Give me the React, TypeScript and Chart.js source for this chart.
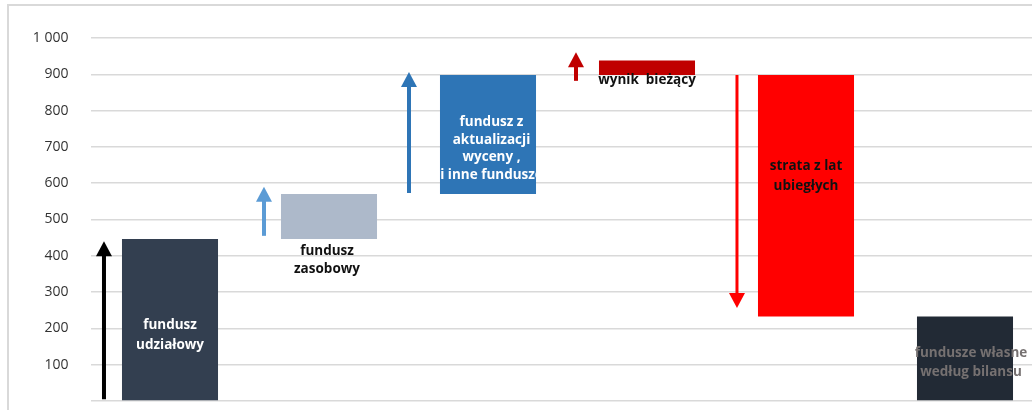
import React, { useEffect, useRef } from "react";
import { Chart, registerables } from "chart.js";

Chart.register(...registerables);

// ---- data ----
const categories = [
  "fundusz udziałowy",
  "fundusz zasobowy",
  "fundusz z aktualizacji wyceny, i inne fundusze",
  "wynik bieżący",
  "strata z lat ubiegłych",
  "fundusze własne według bilansu",
];
const barStart = [0, 446, 570, 898, 233, 0];
const barEnd = [446, 570, 898, 938, 898, 233];
const arrowFrom = [5, 455, 573, 882, 898];
const arrowTo = [440, 590, 906, 961, 256];
const labelLines = [
  ["fundusz", "udziałowy"],
  ["fundusz", "zasobowy"],
  ["fundusz z", "aktualizacji", "wyceny ,", "i inne fundusze"],
  ["wynik  bieżący"],
  ["strata z lat", "ubiegłych"],
  ["fundusze własne", "według bilansu"],
];
const yMin = 0;
const yMax = 1000;
const yStep = 100;

// ---- style ----
const barColors = ["#333F50", "#ADB9CA", "#2E75B6", "#C00000", "#FF0000", "#222A35"];
const labelColors = ["#FFFFFF", "#111111", "#FFFFFF", "#111111", "#111111", "#767171"];
const labelDx = [0, -2, 3.5, 0, 0, 6];
const labelDy = [15, 44, 14, 12, -20, 4];
const labelLineH = [20, 18, 17.7, 18, 20, 19];
const labelClip = [false, false, true, false, false, false];
const arrowColors = ["#000000", "#5B9BD5", "#2E75B6", "#C00000", "#FF0000"];
const arrowGap = [18, 17, 31, 23, 21];
const arrowShaft = [4, 4, 4, 4, 3];

const overlayPlugin = {
  id: "overlay",
  afterDatasetsDraw(chart: any) {
    const ctx = chart.ctx;
    const meta = chart.getDatasetMeta(0);
    const ys = chart.scales.y;
    // arrows
    arrowFrom.forEach((from, i) => {
      const bar = meta.data[i];
      if (!bar) return;
      const x = bar.x - bar.width / 2 - arrowGap[i];
      const y0 = ys.getPixelForValue(from);
      const y1 = ys.getPixelForValue(arrowTo[i]);
      const dir = y1 < y0 ? -1 : 1;
      const headL = 15;
      const headW = 8;
      ctx.save();
      ctx.strokeStyle = arrowColors[i];
      ctx.fillStyle = arrowColors[i];
      ctx.lineWidth = arrowShaft[i];
      ctx.beginPath();
      ctx.moveTo(x, y0);
      ctx.lineTo(x, y1 - dir * headL + dir * 1);
      ctx.stroke();
      ctx.beginPath();
      ctx.moveTo(x, y1);
      ctx.lineTo(x - headW, y1 - dir * headL);
      ctx.lineTo(x + headW, y1 - dir * headL);
      ctx.closePath();
      ctx.fill();
      ctx.restore();
    });
    // labels
    labelLines.forEach((lines, i) => {
      const bar = meta.data[i];
      if (!bar) return;
      const top = Math.min(bar.y, bar.base);
      const bottom = Math.max(bar.y, bar.base);
      const cy = (top + bottom) / 2 + labelDy[i];
      const lh = labelLineH[i];
      ctx.save();
      if (labelClip[i]) {
        ctx.beginPath();
        ctx.rect(bar.x - bar.width / 2, top, bar.width, bottom - top);
        ctx.clip();
      }
      ctx.font = "bold 13.5px 'Open Sans'";
      ctx.fillStyle = labelColors[i];
      ctx.textAlign = "center";
      ctx.textBaseline = "middle";
      lines.forEach((t, k) => {
        const y = cy + (k - (lines.length - 1) / 2) * lh;
        ctx.fillText(t, bar.x + labelDx[i], y);
      });
      ctx.restore();
    });
  },
};

export default function App() {
  const ref = useRef<HTMLCanvasElement | null>(null);
  useEffect(() => {
    if (!ref.current) return;
    const chart = new Chart(ref.current, {
      type: "bar",
      data: {
        labels: categories,
        datasets: [
          {
            data: barStart.map((s, i) => [s, barEnd[i]]) as any,
            backgroundColor: barColors,
            borderWidth: 0,
            barPercentage: 0.604,
            categoryPercentage: 1,
          },
        ],
      },
      options: {
        responsive: false,
        animation: false,
        layout: { padding: { left: 0, right: 15.5, top: 38, bottom: 9 } },
        plugins: { legend: { display: false }, tooltip: { enabled: false } },
        scales: {
          x: { display: false },
          y: {
            min: yMin,
            max: yMax,
            afterFit(scale: any) {
              scale.width = 90.5;
            },
            border: { display: false },
            grid: {
              color: "#D9D9D9",
              lineWidth: 1.5,
              drawTicks: true,
              tickLength: 22,
              tickColor: "rgba(0,0,0,0)",
            },
            ticks: {
              stepSize: yStep,
              padding: 0,
              color: "#333333",
              font: { family: "'Open Sans'", size: 14 },
              callback: (v: any) =>
                v === 0 ? "" : String(v).replace(/\B(?=(\d{3})+(?!\d))/g, " "),
            },
          },
        },
      },
      plugins: [overlayPlugin],
    });
    return () => chart.destroy();
  }, []);
  return (
    <div
      style={{
        position: "fixed",
        left: 0,
        top: 0,
        width: 1032,
        height: 410,
        overflow: "hidden",
        background: "#fff",
      }}
    >
      <div
        style={{
          position: "absolute",
          left: 7,
          top: 4,
          width: 1100,
          height: 500,
          borderTop: "2px solid #D9D9D9",
          borderLeft: "2px solid #D9D9D9",
          boxSizing: "border-box",
        }}
      />
      <canvas
        ref={ref}
        width={1060}
        height={410}
        style={{ position: "absolute", left: 0, top: 0, width: 1060, height: 410 }}
      />
    </div>
  );
}
